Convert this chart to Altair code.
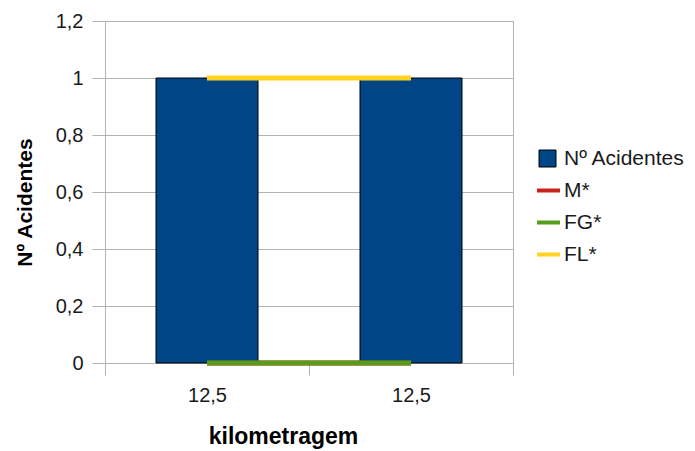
import json
import altair as alt
import pandas as pd

categories = ["12,5", "12,5"]
acidentes = [1, 1]
series_names = ["M*", "FG*", "FL*"]
m_vals = [0, 0]
fg_vals = [0, 0]
fl_vals = [1, 1]
series_colors = ["#c9211e", "#579d1c", "#ffd320"]
bar_name = "Nº Acidentes"
bar_color = "#004586"

bar_df = pd.DataFrame({
    "idx": list(range(len(categories))),
    "cat": categories,
    "value": acidentes,
    "serie": [bar_name] * len(categories),
})

rows = []
for name, vals in zip(series_names, [m_vals, fg_vals, fl_vals]):
    for i, v in enumerate(vals):
        rows.append({"idx": i, "cat": categories[i], "value": v, "serie": name,
                     "order": series_names.index(name)})
line_df = pd.DataFrame(rows)

label_expr = json.dumps(categories) + "[datum.value]"
FONT = "Liberation Sans"
GRID = "#b3b3b3"
TXT = "#1a1a1a"

x_enc = alt.X(
    "idx:O",
    scale=alt.Scale(paddingInner=0, paddingOuter=0),
    axis=alt.Axis(
        title="kilometragem",
        labelExpr=label_expr,
        labelAngle=0,
        labelFont=FONT, labelFontSize=20, labelColor=TXT, labelPadding=10,
        titleFont=FONT, titleFontSize=23, titleFontWeight="bold", titleColor="#000",
        titleX=178, titleY=80, titleBaseline="alphabetic", titleAnchor="middle",
        domainColor=GRID, tickColor=GRID, tickSize=12, tickBand="extent",
        grid=False,
    ),
)

y_enc = alt.Y(
    "value:Q",
    scale=alt.Scale(domain=[0, 1.2], nice=False),
    axis=alt.Axis(
        title="Nº Acidentes",
        values=[0, 0.2, 0.4, 0.6, 0.8, 1.0, 1.2],
        labelExpr="replace(format(datum.value, '~g'), '.', ',')",
        labelFont=FONT, labelFontSize=20, labelColor=TXT, labelPadding=9,
        titleFont=FONT, titleFontSize=21, titleFontWeight="bold", titleColor="#000",
        titleX=-80, titleY=181, titleAngle=270, titleBaseline="middle", titleAlign="center",
        domainColor=GRID, tickColor=GRID, tickSize=13, gridColor=GRID, grid=True,
    ),
)

bars = alt.Chart(bar_df).mark_bar(
    stroke="#000", strokeWidth=1, width=alt.RelativeBandSize(0.5)
).encode(
    x=x_enc,
    y=y_enc,
    fill=alt.Fill(
        "serie:N",
        scale=alt.Scale(domain=[bar_name], range=[bar_color]),
        legend=alt.Legend(
            title=None, orient="none", legendX=432, legendY=127,
            symbolType="square", symbolSize=289, symbolStrokeColor="#000",
            symbolStrokeWidth=1, labelFont=FONT, labelFontSize=21, labelColor=TXT,
            labelOffset=6,
        ),
    ),
)

lines = alt.Chart(line_df).mark_line(strokeWidth=5).encode(
    x=alt.X("idx:O"),
    y=alt.Y("value:Q"),
    stroke=alt.Stroke(
        "serie:N",
        scale=alt.Scale(domain=series_names, range=series_colors),
        legend=alt.Legend(
            title=None, orient="none", legendX=430, legendY=156,
            symbolType="stroke", symbolSize=529, symbolStrokeWidth=4,
            labelFont=FONT, labelFontSize=21, labelColor=TXT, labelOffset=2,
            rowPadding=8,
        ),
    ),
    order=alt.Order("order:Q"),
    detail="serie:N",
)

chart = alt.layer(bars, lines).resolve_scale(fill="independent", stroke="independent").properties(
    width=408,
    height=342,
    autosize=alt.AutoSizeParams(type="none"),
    padding={"left": 97, "top": 13, "right": 174, "bottom": 92},
    background="white",
).configure_view(stroke=GRID, strokeWidth=1)

chart.save("out.html", embed_options={"renderer": "svg", "actions": False})
